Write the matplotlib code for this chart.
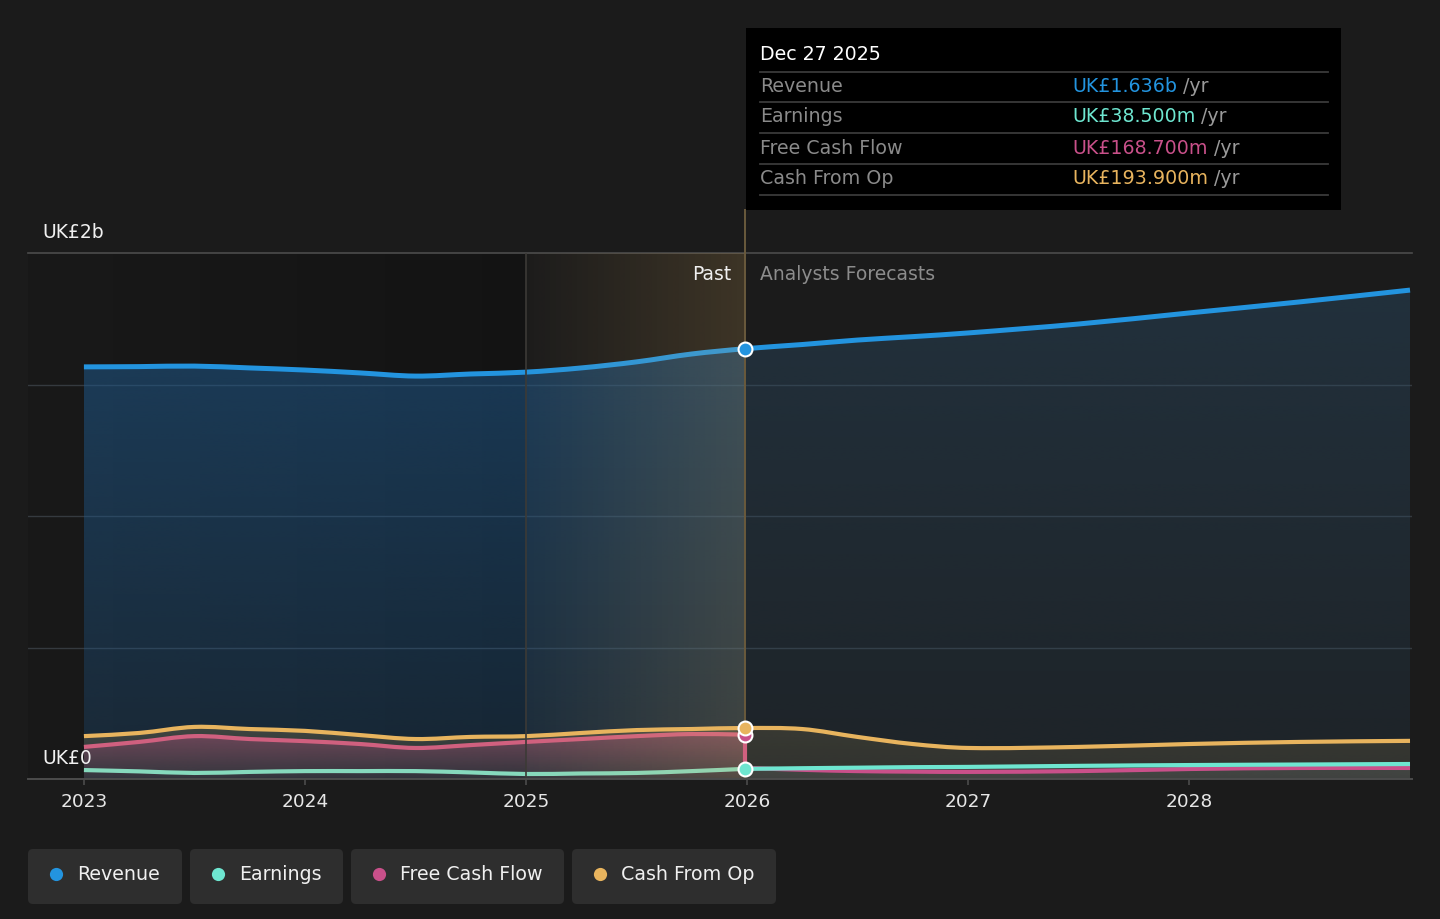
import numpy as np
import matplotlib
matplotlib.use("Agg")
import matplotlib.pyplot as plt
from matplotlib.patches import FancyBboxPatch, Rectangle, PathPatch
from matplotlib.path import Path
from matplotlib.colors import to_rgb
from matplotlib.lines import Line2D

# ---------------- data (UK£ billions) ----------------
past_x = [2023.0, 2023.25, 2023.5, 2023.75, 2024.0, 2024.25, 2024.5, 2024.75,
          2025.0, 2025.25, 2025.5, 2025.75, 2025.99]
rev_past = [1.567, 1.568, 1.570, 1.563, 1.555, 1.544, 1.532, 1.540,
            1.547, 1.563, 1.586, 1.616, 1.636]
cfo_past = [0.163, 0.175, 0.198, 0.190, 0.183, 0.167, 0.152, 0.160,
            0.163, 0.175, 0.186, 0.190, 0.1939]
fcf_past = [0.122, 0.141, 0.163, 0.152, 0.144, 0.133, 0.118, 0.129,
            0.141, 0.152, 0.163, 0.171, 0.1687]
earn_past = [0.034, 0.029, 0.023, 0.027, 0.030, 0.030, 0.030, 0.025,
             0.019, 0.021, 0.023, 0.030, 0.0385]

fc_x = [2025.99, 2026.25, 2026.5, 2026.75, 2027.0, 2027.5, 2028.0, 2028.5, 2029.0]
rev_fc = [1.636, 1.652, 1.669, 1.682, 1.696, 1.730, 1.772, 1.814, 1.859]
cfo_fc = [0.1939, 0.190, 0.160, 0.133, 0.118, 0.122, 0.133, 0.141, 0.145]
fcf_fc = [0.042, 0.035, 0.030, 0.028, 0.027, 0.030, 0.038, 0.042, 0.042]
earn_fc = [0.0385, 0.041, 0.043, 0.045, 0.046, 0.050, 0.053, 0.055, 0.057]

year_ticks = [2023, 2024, 2025, 2026, 2027, 2028]
tick_labels = ["2023", "2024", "2025", "2026", "2027", "2028"]
series_names = ["Revenue", "Earnings", "Free Cash Flow", "Cash From Op"]
tooltip_values = ["UK£1.636b", "UK£38.500m", "UK£168.700m", "UK£193.900m"]
tooltip_date = "Dec 27 2025"
now_x = 2025.99
highlight_start = 2025.0

C_REV = "#2394df"
C_EARN = "#6ee6d0"
C_FCF = "#c9508a"
C_CFO = "#e8b45e"
colors = [C_REV, C_EARN, C_FCF, C_CFO]
BG = "#1b1b1b"

W, H = 1440, 919
plt.rcParams['font.family'] = ['DejaVu Sans']
fig = plt.figure(figsize=(W / 100, H / 100), dpi=100, facecolor=BG)


def fx(px):
    return px / W


def fy(py):
    return 1 - py / H


ax = fig.add_axes([fx(28), fy(779), fx(1412) - fx(28), fy(253) - fy(779)])
ax.set_facecolor(BG)
XMIN, XMAX = 2022.747, 2029.009
YMIN, YMAX = 0.0, 2.0


def smooth_curve(x, y):
    """Cubic Bezier path passing through the data points (cardinal spline)."""
    x = np.asarray(x, float)
    y = np.asarray(y, float)
    n = len(x)
    verts = [(x[0], y[0])]
    codes = [Path.MOVETO]
    for i in range(n - 1):
        i0 = max(i - 1, 0)
        i3 = min(i + 2, n - 1)
        h = x[i + 1] - x[i]
        # tangents (slopes)
        m1 = (y[i + 1] - y[i0]) / (x[i + 1] - x[i0])
        m2 = (y[i3] - y[i]) / (x[i3] - x[i])
        c1 = (x[i] + h / 3, y[i] + m1 * h / 3)
        c2 = (x[i + 1] - h / 3, y[i + 1] - m2 * h / 3)
        verts += [c1, c2, (x[i + 1], y[i + 1])]
        codes += [Path.CURVE4] * 3
    return verts, codes


def line_path(x, y, color, lw, z):
    v, c = smooth_curve(x, y)
    p = PathPatch(Path(v, c), facecolor='none', edgecolor=color, lw=lw,
                  capstyle='butt', joinstyle='round', zorder=z)
    ax.add_patch(p)


def area_path(x, y):
    v, c = smooth_curve(x, y)
    v = v + [(x[-1], 0.0), (x[0], 0.0), (x[0], y[0])]
    c = c + [Path.LINETO, Path.LINETO, Path.CLOSEPOLY]
    return Path(v, c)


def vgrad(x, y, color, a_top, a_bot, z):
    r, g, b = to_rgb(color)
    top = max(y)
    n = 256
    arr = np.zeros((n, 1, 4))
    arr[:, 0, 0], arr[:, 0, 1], arr[:, 0, 2] = r, g, b
    arr[:, 0, 3] = np.linspace(a_bot, a_top, n)
    im = ax.imshow(arr, extent=[min(x), max(x), 0, top * 1.02], origin='lower',
                   aspect='auto', zorder=z, interpolation='bilinear')
    im.set_clip_path(area_path(x, y), transform=ax.transData)


def hgrad(x0, x1, color, a_left, a_right, z):
    r, g, b = to_rgb(color)
    n = 256
    arr = np.zeros((1, n, 4))
    arr[0, :, 0], arr[0, :, 1], arr[0, :, 2] = r, g, b
    arr[0, :, 3] = np.linspace(a_left, a_right, n)
    ax.imshow(arr, extent=[x0, x1, YMIN, YMAX], origin='lower', aspect='auto',
              zorder=z, interpolation='bilinear')


# background regions
hgrad(XMIN, highlight_start, "#000000", 0.08, 0.28, 0.2)
hgrad(highlight_start, now_x, C_CFO, 0.01, 0.17, 4.5)

# fills
vgrad(past_x, rev_past, "#1f5a8e", 0.55, 0.25, 1)
vgrad(fc_x, rev_fc, "#2d5270", 0.40, 0.15, 1)
vgrad(past_x, cfo_past, "#8a7a50", 0.35, 0.15, 1.5)
vgrad(past_x, fcf_past, C_FCF, 0.35, 0.06, 1.6)
vgrad(fc_x, cfo_fc, "#8a7a50", 0.25, 0.18, 1.5)
vgrad(fc_x, earn_fc, "#9aa0a8", 0.18, 0.15, 1.6)

# grid lines
for gv in [0.5, 1.0, 1.5]:
    ax.axhline(gv, color="#353a3f", lw=1.0, zorder=0.8)
ax.axhline(2.0, color="#4c4c4c", lw=1.2, zorder=0.8, clip_on=False)
ax.axvline(highlight_start, color="#3c3a36", lw=1.2, zorder=4.6)
ax.axvline(now_x, ymin=0, ymax=(779 - 210) / 526, color="#6a5a3c", lw=1.4,
           zorder=4.6, clip_on=False)

# lines
lw_main = 3.6
lw = 3.0
line_path(past_x + fc_x[1:], rev_past + rev_fc[1:], C_REV, lw_main, 4)
line_path(past_x + fc_x[1:], cfo_past + cfo_fc[1:], C_CFO, lw, 3.5)
line_path(past_x, fcf_past, "#d0607f", lw, 3.4)
ax.plot([past_x[-1], fc_x[0]], [fcf_past[-1], fcf_fc[0]], color="#d0607f",
        lw=lw, zorder=4.8, solid_capstyle='butt')
line_path(fc_x, fcf_fc, C_FCF, lw, 3.2)
line_path(past_x, earn_past, "#86d9bd", lw, 3.3)
line_path(fc_x, earn_fc, C_EARN, lw, 3.3)

# markers at the current point
for val, c, z in [(rev_fc[0], C_REV, 6), (fcf_past[-1], C_FCF, 6.1),
                  (cfo_fc[0], C_CFO, 6.2), (earn_fc[0], C_EARN, 6.3)]:
    ax.plot([now_x], [val], marker='o', ms=10, mfc=c, mec='white', mew=1.5,
            zorder=z, clip_on=False)

ax.set_xlim(XMIN, XMAX)
ax.set_ylim(YMIN, YMAX)
for s in ['top', 'right', 'left']:
    ax.spines[s].set_visible(False)
ax.spines['bottom'].set_color("#4c4c4c")
ax.spines['bottom'].set_linewidth(1.4)
ax.spines['bottom'].set_zorder(7)
ax.set_yticks([])
ax.set_xticks(year_ticks)
ax.set_xticklabels(tick_labels)
ax.tick_params(axis='x', colors="#4c4c4c", length=4, width=1.2, pad=6,
               labelsize=13.3, labelcolor="#e6e6e6")

# axis value labels
fig.text(fx(42), fy(232), "UK£2b", color="#f0f0f0", fontsize=13.5, va='center', ha='left')
fig.text(fx(42), fy(758), "UK£0", color="#f0f0f0", fontsize=13.5, va='center', ha='left')
fig.text(fx(731), fy(274), "Past", color="#f0f0f0", fontsize=13.5, va='center', ha='right')
fig.text(fx(760), fy(274), "Analysts Forecasts", color="#8c8c8c", fontsize=13.5,
         va='center', ha='left')

# tooltip
fig.patches.append(Rectangle((fx(746), fy(210)), fx(1341) - fx(746), fy(28) - fy(210),
                             transform=fig.transFigure, facecolor="#000000",
                             edgecolor='none', zorder=10))
fig.text(fx(760), fy(55), tooltip_date, color="#ffffff", fontsize=13.7,
         va='center', ha='left', zorder=11)
for yl in [72, 102, 133, 164, 195]:
    fig.add_artist(Line2D([fx(760), fx(1328)], [fy(yl), fy(yl)], color="#3a3a3a",
                          lw=1.3, transform=fig.transFigure, zorder=11))
overlay = fig.add_axes([0, 0, 1, 1], facecolor='none')
overlay.set_axis_off()
overlay.set_xlim(0, 1)
overlay.set_ylim(0, 1)
overlay.set_zorder(20)
row_y = [87, 116, 148, 178]
for name, val, c, ry in zip(series_names, tooltip_values, colors, row_y):
    overlay.text(fx(760), fy(ry), name, color="#8a8a8a", fontsize=13.7,
                 va='center', ha='left')
    t = overlay.text(fx(1072), fy(ry), val, color=c, fontsize=13.7,
                     va='center', ha='left')
    overlay.annotate(" /yr", xy=(1, 0.5), xycoords=t, color="#9a9a9a",
                     fontsize=13.7, va='center', ha='left', annotation_clip=False)

# legend
boxes = [(28, 182), (190, 343), (351, 564), (572, 776)]
for (x0, x1), name, c in zip(boxes, series_names, colors):
    fig.patches.append(FancyBboxPatch((x0 / 100, (H - 904) / 100), (x1 - x0) / 100,
                                      55 / 100, boxstyle="round,pad=0,rounding_size=0.05",
                                      transform=fig.dpi_scale_trans, facecolor="#2e2e2e",
                                      edgecolor='none', zorder=1))
    overlay.plot([fx(x0 + 28)], [fy(874)], marker='o', ms=9.5, color=c, mec='none')
    overlay.text(fx(x0 + 49), fy(874), name, color="#f0f0f0", fontsize=13.7,
                 va='center', ha='left')

fig.savefig("out.png", dpi=100, facecolor=BG)
